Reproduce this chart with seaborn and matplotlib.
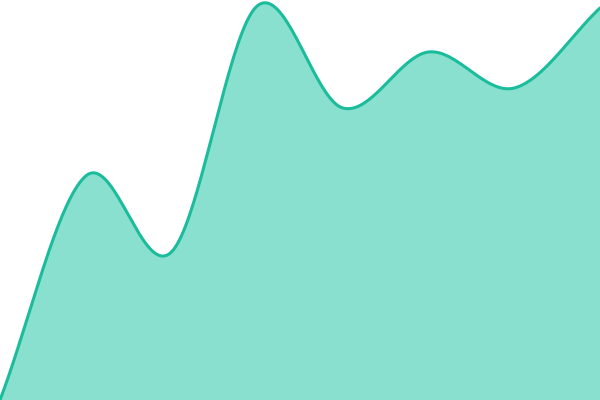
import numpy as np
import pandas as pd
import matplotlib
matplotlib.use("Agg")
import matplotlib.pyplot as plt
import seaborn as sns

# values (y axis 0..100, 8 evenly spaced points)
steps = [0, 1, 2, 3, 4, 5, 6, 7]
values = [0, 56, 37, 98.5, 73, 87, 78, 98]

LINE = "#1abc9c"
FILL = "#8ae0cf"


def catmull_rom(x, y, n=40):
    """Smooth curve through the points (uniform Catmull-Rom), for drawing only."""
    x = np.asarray(x, float)
    y = np.asarray(y, float)
    px = np.concatenate([[2 * x[0] - x[1]], x, [2 * x[-1] - x[-2]]])
    py = np.concatenate([[2 * y[0] - y[1]], y, [2 * y[-1] - y[-2]]])
    xs, ys = [], []
    t = np.linspace(0, 1, n, endpoint=False)
    for i in range(1, len(px) - 2):
        for arr, out in ((px, xs), (py, ys)):
            p0, p1, p2, p3 = arr[i - 1], arr[i], arr[i + 1], arr[i + 2]
            out.append(0.5 * ((2 * p1) + (-p0 + p2) * t
                              + (2 * p0 - 5 * p1 + 4 * p2 - p3) * t ** 2
                              + (-p0 + 3 * p1 - 3 * p2 + p3) * t ** 3))
    xs.append([x[-1]])
    ys.append([y[-1]])
    return np.concatenate(xs), np.concatenate(ys)


sns.set_theme(style="white")

df = pd.DataFrame({"step": steps, "value": values})
cx, cy = catmull_rom(df["step"], df["value"])
curve = pd.DataFrame({"step": cx, "value": cy})

fig = plt.figure(figsize=(6, 4), dpi=100)
ax = fig.add_axes([0, 0, 1, 1])

ax.fill_between(curve["step"], curve["value"], 0, color=FILL, lw=0)
sns.lineplot(data=curve, x="step", y="value", ax=ax, color=LINE,
             linewidth=2.2, sort=False, estimator=None)

ax.set_xlim(steps[0], steps[-1])
ax.set_ylim(0, 100)
ax.axis("off")

fig.savefig("out.png", dpi=100)
